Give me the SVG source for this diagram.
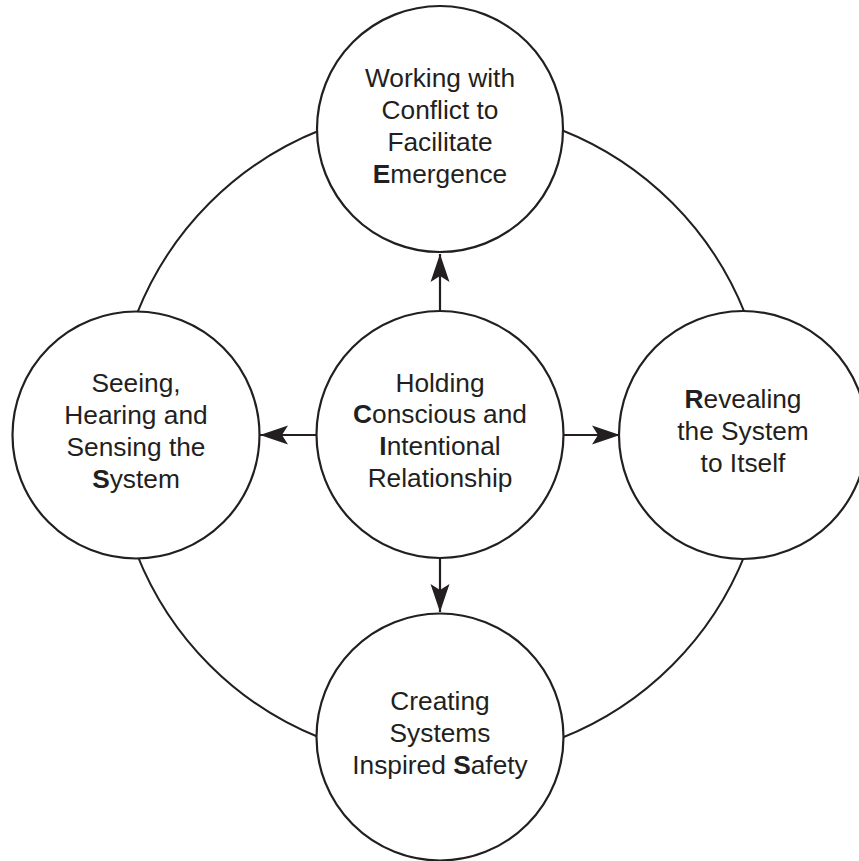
<svg xmlns="http://www.w3.org/2000/svg" width="859" height="861" viewBox="0 0 859 861">
<style>
.node circle{fill:#fff;stroke:#231f20;stroke-width:2.2}
.ring{fill:none;stroke:#231f20;stroke-width:2}
text{font-family:"Liberation Sans",Arial,Helvetica,sans-serif;font-size:26.3px;fill:#231f20;text-anchor:middle}
.b{font-weight:bold}
.conn line{stroke:#231f20;stroke-width:2.2;fill:none}
</style>
<defs>
<marker id="ah" markerUnits="userSpaceOnUse" viewBox="-30 -12 32 24" markerWidth="32" markerHeight="24" refX="0" refY="0" orient="auto">
<path d="M0,0 L-28,-9.5 L-22,0 L-28,9.5 Z" fill="#231f20"/>
</marker>
</defs>
<rect width="859" height="861" fill="#fff"/>
<circle class="ring" cx="441" cy="434" r="327"/>
<g class="conn">
<line x1="440" y1="311" x2="440" y2="254" marker-end="url(#ah)"/>
<line x1="316" y1="435" x2="260" y2="435" marker-end="url(#ah)"/>
<line x1="564" y1="435" x2="620" y2="435" marker-end="url(#ah)"/>
<line x1="440" y1="558" x2="440" y2="612" marker-end="url(#ah)"/>
</g>
<g id="top" class="node">
<circle cx="440" cy="129" r="123"/>
<text x="440" y="87">Working with</text>
<text x="440" y="119">Conflict to</text>
<text x="440" y="151">Facilitate</text>
<text x="440" y="183"><tspan class="b">E</tspan>mergence</text>
</g>
<g id="left" class="node">
<circle cx="136" cy="435" r="123.5"/>
<text x="136" y="392">Seeing,</text>
<text x="136" y="424">Hearing and</text>
<text x="136" y="456">Sensing the</text>
<text x="136" y="488"><tspan class="b">S</tspan>ystem</text>
</g>
<g id="right" class="node">
<circle cx="743" cy="435" r="124"/>
<text x="743" y="408"><tspan class="b">R</tspan>evealing</text>
<text x="743" y="440">the System</text>
<text x="743" y="472">to Itself</text>
</g>
<g id="bottom" class="node">
<circle cx="440" cy="737" r="123.5"/>
<text x="440" y="710">Creating</text>
<text x="440" y="742">Systems</text>
<text x="440" y="774">Inspired <tspan class="b">S</tspan>afety</text>
</g>
<g id="center" class="node">
<circle cx="440" cy="434.5" r="123.5"/>
<text x="440" y="392">Holding</text>
<text x="440" y="423"><tspan class="b">C</tspan>onscious and</text>
<text x="440" y="455"><tspan class="b">I</tspan>ntentional</text>
<text x="440" y="487">Relationship</text>
</g>
</svg>
